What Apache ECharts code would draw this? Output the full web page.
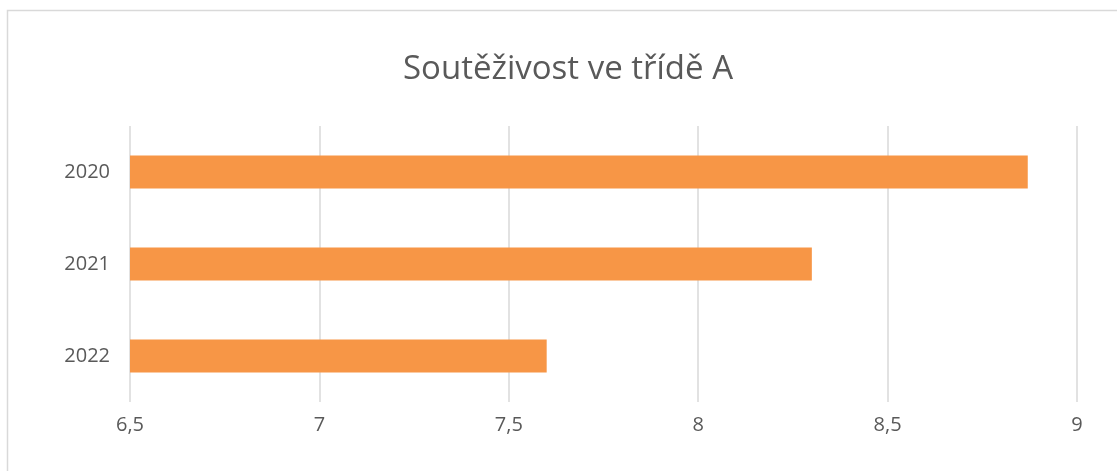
<!DOCTYPE html>
<html>
<head>
<meta charset="utf-8">
<script src="https://cdn.jsdelivr.net/npm/echarts@6/dist/echarts.min.js"></script>
<style>
  html, body { margin: 0; padding: 0; background: #fff; }
  #chart { width: 1117px; height: 471px; }
</style>
</head>
<body>
<div id="chart"></div>
<script>
// data
const years = ['2020', '2021', '2022'];
const scores = [8.87, 8.3, 7.6];
const axisMin = 6.5;
const axisMax = 9;
const axisStep = 0.5;

const chart = echarts.init(document.getElementById('chart'));

const option = {
  animation: false,
  textStyle: { fontFamily: 'Open Sans' },
  title: {
    text: 'Soutěživost ve třídě A',
    left: 398,
    top: 48,
    textStyle: { color: '#595959', fontSize: 33, fontWeight: 'normal', fontFamily: 'Open Sans' }
  },
  graphic: [{
    type: 'rect',
    shape: { x: 7.5, y: 10.5, width: 1200, height: 600 },
    style: { fill: 'none', stroke: '#d9d9d9', lineWidth: 1.5 },
    silent: true
  }],
  grid: { left: 130, right: 40, top: 126, bottom: 69, containLabel: false },
  xAxis: {
    type: 'value',
    min: axisMin,
    max: axisMax,
    interval: axisStep,
    axisLine: { show: false },
    axisTick: { show: false },
    splitLine: { lineStyle: { color: '#d9d9d9', width: 1.5 } },
    axisLabel: {
      color: '#595959',
      fontSize: 20,
      margin: 13,
      formatter: v => String(v).replace('.', ',')
    }
  },
  yAxis: {
    type: 'category',
    data: years,
    inverse: true,
    axisLine: { show: false },
    axisTick: { show: false },
    splitLine: { show: false },
    axisLabel: { color: '#595959', fontSize: 20, margin: 20 }
  },
  series: [{
    type: 'bar',
    data: scores,
    barWidth: '36%',
    itemStyle: { color: '#f79646' }
  }]
};

chart.setOption(option);
</script>
</body>
</html>
